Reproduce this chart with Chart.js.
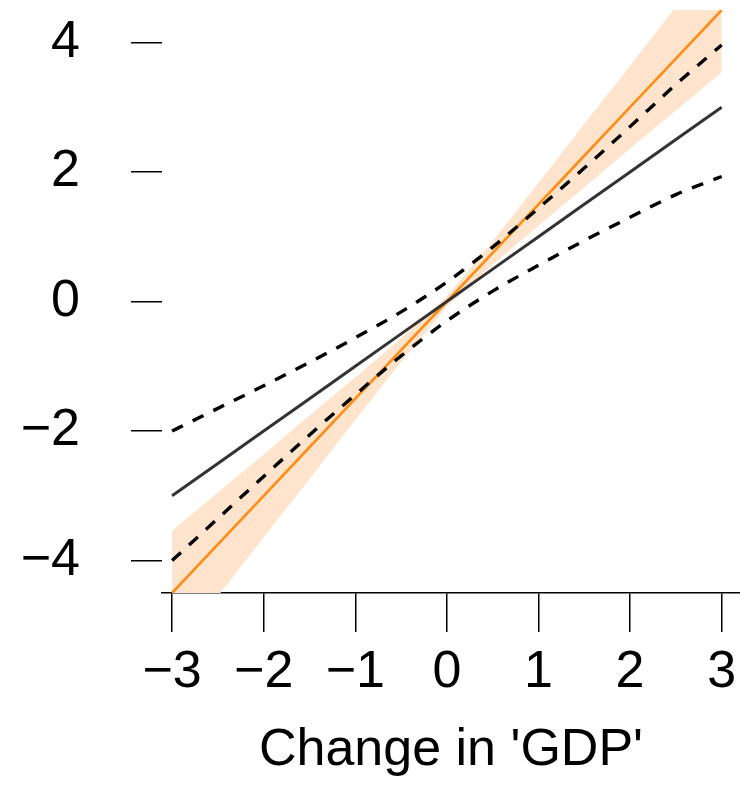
<!DOCTYPE html>
<html>
<head>
<meta charset="utf-8">
<script src="https://cdn.jsdelivr.net/npm/chart.js@4/dist/chart.umd.min.js"></script>
<style>
  html, body { margin: 0; padding: 0; background: #fff; }
  canvas { display: block; }
</style>
</head>
<body>
<canvas id="grafico" width="740" height="785"></canvas>
<script>
// valores
const xValues = [-3, -2.5, -2, -1.5, -1, -0.5, 0, 0.5, 1, 1.5, 2, 2.5, 3];
const lineaNegra = [-3, -2.5, -2, -1.5, -1, -0.5, 0, 0.5, 1, 1.5, 2, 2.5, 3];
const lineaNaranja = [-4.5, -3.75, -3, -2.25, -1.5, -0.75, 0, 0.75, 1.5, 2.25, 3, 3.75, 4.5];
const bandaSuperior = [-3.54, -2.95, -2.36, -1.76, -1.17, -0.57, 0.08, 0.93, 1.83, 2.74, 3.64, 4.55, 5.46];
const bandaInferior = [-5.46, -4.55, -3.64, -2.74, -1.83, -0.93, -0.08, 0.57, 1.17, 1.76, 2.36, 2.95, 3.54];
const discontSuperior = [-2.0, -1.65, -1.30, -0.94, -0.56, -0.16, 0.30, 0.84, 1.44, 2.06, 2.70, 3.35, 3.96];
const discontInferior = [-4.0, -3.35, -2.70, -2.06, -1.44, -0.84, -0.30, 0.16, 0.56, 0.94, 1.30, 1.65, 1.93];

const xTickValues = [-3, -2, -1, 0, 1, 2, 3];
const xTickLabels = ['\u22123', '\u22122', '\u22121', '0', '1', '2', '3'];
const yTickValues = [-4, -2, 0, 2, 4];
const yTickLabels = ['\u22124', '\u22122', '0', '2', '4'];
const xTitle = "Change in 'GDP'";

function puntos(ys) {
    return xValues.map((x, i) => ({ x: x, y: ys[i] }));
}

function sinPadding(scale) {
    scale.paddingLeft = 0;
    scale.paddingRight = 0;
    scale.paddingTop = 0;
    scale.paddingBottom = 0;
}

const fuente = "'Liberation Sans', Arial, Helvetica, sans-serif";
const ctx = document.getElementById('grafico').getContext('2d');

new Chart(ctx, {
    type: 'line',
    data: {
        datasets: [
            {
                label: 'banda superior',
                data: puntos(bandaSuperior),
                borderWidth: 0,
                pointRadius: 0,
                backgroundColor: 'rgb(254, 228, 205)',
                fill: '+1',
                order: 10
            },
            {
                label: 'banda inferior',
                data: puntos(bandaInferior),
                borderWidth: 0,
                pointRadius: 0,
                fill: false,
                order: 11
            },
            {
                label: 'naranja',
                data: puntos(lineaNaranja),
                borderColor: 'rgb(255, 140, 20)',
                borderWidth: 2.6,
                pointRadius: 0,
                fill: false,
                order: 3
            },
            {
                label: 'negra',
                data: puntos(lineaNegra),
                borderColor: '#333333',
                borderWidth: 3,
                pointRadius: 0,
                fill: false,
                order: 2
            },
            {
                label: 'discontinua sup',
                data: puntos(discontSuperior),
                borderColor: '#000000',
                borderWidth: 3.4,
                borderDash: [12, 11],
                cubicInterpolationMode: 'monotone',
                pointRadius: 0,
                fill: false,
                order: 1
            },
            {
                label: 'discontinua inf',
                data: puntos(discontInferior),
                borderColor: '#000000',
                borderWidth: 3.4,
                borderDash: [12, 11],
                cubicInterpolationMode: 'monotone',
                pointRadius: 0,
                fill: false,
                order: 1
            }
        ]
    },
    options: {
        responsive: false,
        animation: false,
        layout: { padding: { top: 10, left: 0, right: 0, bottom: 0 } },
        plugins: {
            legend: { display: false },
            tooltip: { enabled: false }
        },
        scales: {
            x: {
                type: 'linear',
                min: -3.11,
                max: 3.2,
                afterBuildTicks: function (scale) {
                    scale.ticks = xTickValues.map(v => ({ value: v }));
                },
                afterFit: function (scale) {
                    scale.height = 192;
                    sinPadding(scale);
                },
                border: { display: true, color: '#000', width: 1.5 },
                grid: {
                    drawOnChartArea: false,
                    drawTicks: true,
                    tickLength: 39,
                    color: '#000',
                    lineWidth: 1.5
                },
                ticks: {
                    autoSkip: false,
                    maxRotation: 0,
                    padding: 9,
                    color: '#000',
                    font: { family: fuente, size: 52 },
                    callback: function (value) {
                        const i = xTickValues.indexOf(value);
                        return i >= 0 ? xTickLabels[i] : '';
                    }
                },
                title: {
                    display: true,
                    text: xTitle,
                    color: '#000',
                    font: { family: fuente, size: 52 },
                    padding: { top: 0, bottom: 3 }
                }
            },
            y: {
                type: 'linear',
                min: -4.5,
                max: 4.5,
                afterBuildTicks: function (scale) {
                    scale.ticks = yTickValues.map(v => ({ value: v }));
                },
                afterFit: function (scale) {
                    scale.width = 162;
                    sinPadding(scale);
                },
                border: { display: false },
                grid: {
                    drawOnChartArea: false,
                    drawTicks: true,
                    tickLength: 31,
                    color: '#000',
                    lineWidth: 1.5
                },
                ticks: {
                    autoSkip: false,
                    padding: 51,
                    color: '#000',
                    font: { family: fuente, size: 52 },
                    callback: function (value) {
                        const i = yTickValues.indexOf(value);
                        return i >= 0 ? yTickLabels[i] : '';
                    }
                }
            }
        }
    }
});
</script>
</body>
</html>
